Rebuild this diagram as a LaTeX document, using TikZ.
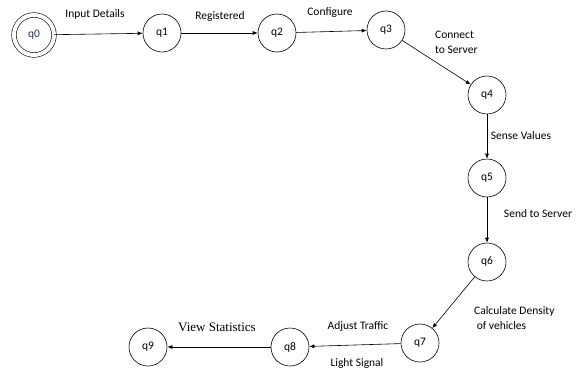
\documentclass[tikz,border=0pt]{standalone}
\usepackage{fontspec}
\setmainfont{Carlito}
\newfontfamily\labelserif{Liberation Serif}
\usepackage{tikz}
\usetikzlibrary{arrows.meta}
\definecolor{stateblue}{RGB}{40, 50, 90}

\begin{document}
\begin{tikzpicture}[x=1pt, y=-1pt,
    state/.style={draw, circle, line width=0.6pt, minimum size=38pt, inner sep=0pt, font=\fontsize{11.5}{13}\selectfont},
    trans/.style={-{Latex[length=5pt, width=4pt]}, line width=0.6pt},
    lbl/.style={font=\fontsize{11.5}{13}\selectfont, inner sep=0pt, align=left}]
    \useasboundingbox (0,0) rectangle (588,372);

    % States
    \node[state, minimum size=40pt, double, double distance=4pt, text=stateblue] (q0) at (34,35) {q0};
    \node[state] (q1) at (162,33) {q1};
    \node[state] (q2) at (277,33) {q2};
    \node[state] (q3) at (386,30) {q3};
    \node[state] (q4) at (487,95) {q4};
    \node[state] (q5) at (487,178) {q5};
    \node[state] (q6) at (487,262) {q6};
    \node[state] (q7) at (420,343) {q7};
    \node[state] (q8) at (290,347) {q8};
    \node[state] (q9) at (148,347) {q9};

    % Transitions
    \draw[trans] (q0) -- (q1);
    \draw[trans] (q1) -- (q2);
    \draw[trans] (q2) -- (q3);
    \draw[trans] (q3) -- (q4);
    \draw[trans] (q4) -- (q5);
    \draw[trans] (q5) -- (q6);
    \draw[trans] (q6) -- (q7);
    \draw[trans] (q7) -- (q8);
    \draw[trans] (q8) -- (q9);

    % Labels
    \node[lbl] (l01) at (95,14) {Input Details};
    \node[lbl] (l12) at (220,16) {Registered};
    \node[lbl] (l23) at (330,13) {Configure};
    \node[lbl, anchor=west] (l34) at (435,42) {Connect\\[2pt]to Server};
    \node[lbl] (l45) at (521,136) {Sense Values};
    \node[lbl] (l56) at (538,214) {Send to Server};
    \node[lbl, anchor=west] (l67) at (474,318) {Calculate Density\\[2pt]\ of vehicles};
    \node[lbl] (l78a) at (358,326) {Adjust Traffic};
    \node[lbl] (l78b) at (357,363) {Light Signal};
    \node[lbl, font=\labelserif\fontsize{13}{15}\selectfont] (l89) at (217,327) {View Statistics};
\end{tikzpicture}
\end{document}
